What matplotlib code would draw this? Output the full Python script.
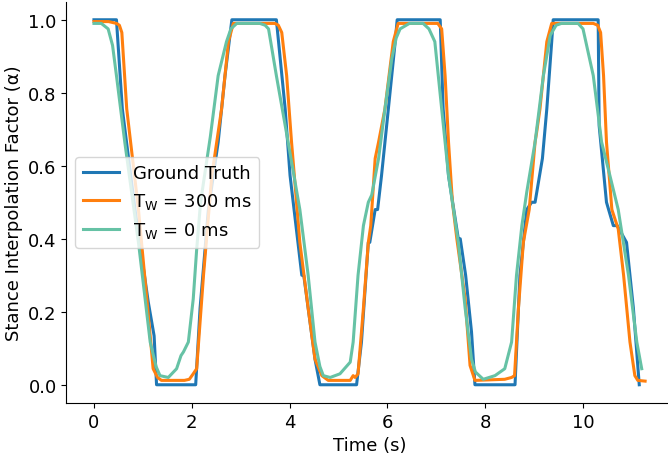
import matplotlib.pyplot as plt

# Ground truth stance factor (time s, value)
gt_t = [0, 0.46, 0.58, 0.84, 1.11, 1.23, 1.28, 2.08, 2.17, 2.34, 2.54, 2.68, 2.82,
        3.73, 3.91, 4.01, 4.25, 4.29, 4.38, 4.52, 4.62, 5.37, 5.47, 5.61, 5.64,
        5.75, 5.80, 5.88, 6.02, 6.16, 6.20, 7.08, 7.14, 7.25, 7.45, 7.49, 7.60,
        7.72, 7.79, 8.61, 8.71, 8.85, 8.95, 9.02, 9.17, 9.26, 9.36, 9.39, 10.31,
        10.33, 10.48, 10.62, 10.70, 10.89, 11.03, 11.15]
gt_v = [1.0, 1.0, 0.756, 0.48, 0.227, 0.134, 0.0, 0.0, 0.21, 0.48, 0.665, 0.847, 1.0,
        1.0, 0.756, 0.573, 0.30, 0.30, 0.21, 0.07, 0.0, 0.0, 0.117, 0.39, 0.39,
        0.48, 0.48, 0.573, 0.756, 0.94, 1.0, 1.0, 0.756, 0.573, 0.40, 0.40, 0.30,
        0.145, 0.0, 0.0, 0.30, 0.48, 0.50, 0.50, 0.62, 0.756, 0.94, 1.0, 1.0,
        0.71, 0.50, 0.436, 0.436, 0.39, 0.21, 0.0]

# T_W = 300 ms prediction
w300_t = [0, 0.30, 0.46, 0.52, 0.57, 0.67, 0.91, 1.10, 1.21, 1.30, 1.38, 1.85, 1.95,
          2.03, 2.10, 2.24, 2.41, 2.61, 2.75, 2.85, 3.70, 3.77, 3.84, 3.94, 4.04,
          4.21, 4.38, 4.52, 4.66, 4.79, 5.24, 5.30, 5.34, 5.40, 5.51, 5.61, 5.66,
          5.75, 5.82, 5.95, 6.12, 6.22, 7.03, 7.11, 7.18, 7.25, 7.33, 7.42, 7.59,
          7.69, 7.79, 8.40, 8.54, 8.60, 8.68, 8.78, 8.90, 9.02, 9.05, 9.12, 9.26,
          9.36, 10.21, 10.30, 10.36, 10.42, 10.48, 10.59, 10.72, 10.83, 10.96,
          11.06, 11.12, 11.27]
w300_v = [0.995, 0.995, 0.99, 0.985, 0.965, 0.756, 0.48, 0.208, 0.044, 0.02, 0.012,
          0.012, 0.015, 0.03, 0.044, 0.30, 0.573, 0.756, 0.94, 0.99, 0.99, 0.985,
          0.965, 0.847, 0.665, 0.39, 0.21, 0.07, 0.025, 0.012, 0.012, 0.025, 0.02,
          0.03, 0.21, 0.39, 0.436, 0.62, 0.665, 0.756, 0.94, 0.99, 0.99, 0.975,
          0.847, 0.665, 0.50, 0.40, 0.235, 0.053, 0.012, 0.015, 0.02, 0.025, 0.21,
          0.39, 0.48, 0.665, 0.69, 0.756, 0.94, 0.99, 0.99, 0.985, 0.965, 0.847,
          0.665, 0.48, 0.427, 0.30, 0.117, 0.025, 0.012, 0.01]

# T_W = 0 ms prediction
w0_t = [0, 0.15, 0.29, 0.38, 0.46, 0.63, 0.91, 1.15, 1.27, 1.35, 1.52, 1.69, 1.78,
        1.83, 1.93, 2.03, 2.10, 2.18, 2.38, 2.54, 2.71, 2.80, 2.92, 3.39, 3.50,
        3.57, 3.73, 3.97, 4.21, 4.38, 4.52, 4.62, 4.69, 4.83, 5.03, 5.24, 5.30,
        5.40, 5.51, 5.61, 5.68, 5.82, 5.95, 6.09, 6.18, 6.26, 6.45, 6.73, 6.85,
        6.97, 7.11, 7.25, 7.45, 7.59, 7.72, 7.80, 7.96, 8.20, 8.40, 8.54, 8.64,
        8.75, 8.85, 9.02, 9.19, 9.33, 9.45, 9.56, 9.90, 10.00, 10.21, 10.38,
        10.55, 10.72, 10.93, 11.10, 11.20]
w0_v = [0.99, 0.99, 0.975, 0.93, 0.847, 0.665, 0.39, 0.117, 0.05, 0.025, 0.02,
        0.044, 0.08, 0.09, 0.117, 0.235, 0.37, 0.50, 0.68, 0.847, 0.94, 0.975,
        0.99, 0.99, 0.985, 0.975, 0.847, 0.665, 0.48, 0.30, 0.117, 0.05, 0.025,
        0.02, 0.03, 0.062, 0.117, 0.30, 0.436, 0.50, 0.52, 0.62, 0.756, 0.893,
        0.95, 0.975, 0.99, 0.99, 0.975, 0.94, 0.756, 0.573, 0.39, 0.21, 0.07,
        0.035, 0.015, 0.025, 0.044, 0.117, 0.30, 0.436, 0.528, 0.665, 0.847,
        0.957, 0.985, 0.99, 0.99, 0.975, 0.847, 0.665, 0.573, 0.48, 0.30, 0.117,
        0.044]

plt.rcParams['font.size'] = 13

fig = plt.figure(figsize=(6.68, 4.56), dpi=100)
ax = fig.add_axes([0.0994, 0.114, 0.9076, 0.8805])

ax.plot(gt_t, gt_v, color='#1f77b4', lw=2.2, label='Ground Truth')
ax.plot(w300_t, w300_v, color='#ff7f0e', lw=2.2, label=r'T$_\mathrm{W}$ = 300 ms')
ax.plot(w0_t, w0_v, color='#66c2a5', lw=2.2, label=r'T$_\mathrm{W}$ = 0 ms')

ax.set_xlabel('Time (s)')
ax.set_ylabel('Stance Interpolation Factor (α)')
ax.spines['top'].set_visible(False)
ax.spines['right'].set_visible(False)
ax.legend(loc='center left')

fig.savefig('out.png', dpi=100)
